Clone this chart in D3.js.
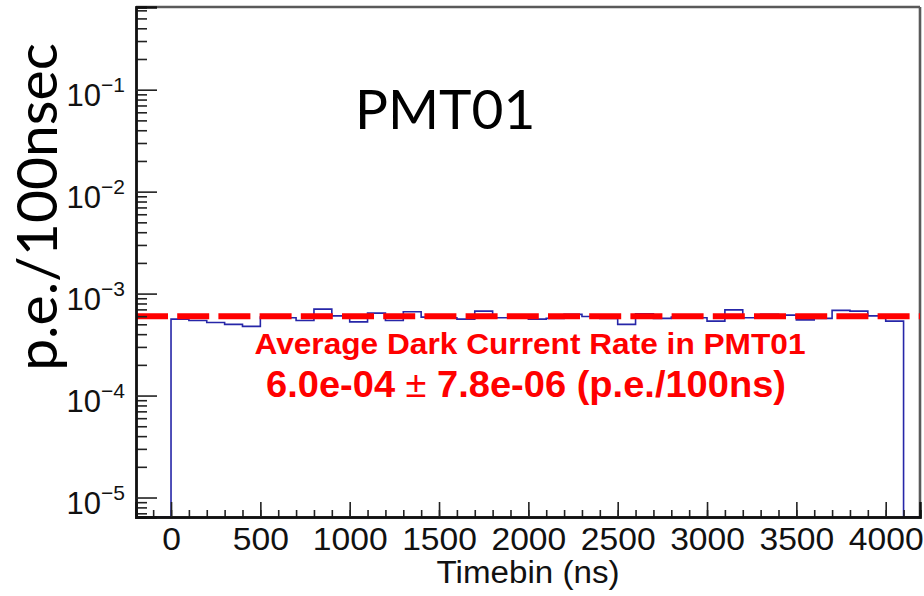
<!DOCTYPE html>
<html>
<head>
<meta charset="utf-8">
<script src="https://cdn.jsdelivr.net/npm/d3@7"></script>
<style>
  html, body { margin: 0; padding: 0; background: #fff; }
  svg { display: block; }
</style>
</head>
<body>
<svg id="chart" width="924" height="596"></svg>
<script>
// ---- data ----
const binEdges = [0,100,200,300,400,500,600,700,800,900,1000,1100,1200,1300,1400,1500,1600,1700,1800,1900,2000,
                  2100,2200,2300,2400,2500,2600,2700,2800,2900,3000,3100,3200,3300,3400,3500,3600,3700,3800,3900,4000];
const binUpperEdge = 4100;
const rates = [5.62e-4,5.45e-4,5.21e-4,4.99e-4,4.77e-4,5.88e-4,5.79e-4,5.45e-4,7.05e-4,6.05e-4,
               5.28e-4,6.44e-4,5.45e-4,6.63e-4,5.88e-4,5.79e-4,5.62e-4,6.73e-4,5.79e-4,5.79e-4,
               5.62e-4,5.71e-4,6.25e-4,5.97e-4,5.71e-4,4.99e-4,6.34e-4,5.71e-4,5.88e-4,5.79e-4,
               5.37e-4,6.93e-4,5.79e-4,6.25e-4,6.15e-4,5.53e-4,5.71e-4,6.84e-4,6.73e-4,6.05e-4,5.37e-4];
const meanRate = 6.0e-4;
const xTickLabels = [0,500,1000,1500,2000,2500,3000,3500,4000];
const xMinorTicks = [-100,0,100,200,300,400,500,600,700,800,900,1000,1100,1200,1300,1400,1500,1600,1700,1800,1900,2000,
                     2100,2200,2300,2400,2500,2600,2700,2800,2900,3000,3100,3200,3300,3400,3500,3600,3700,3800,3900,4000,4100];
const yDecadeExps = [-5,-4,-3,-2,-1];
const xDomain = [-196, 4192];
const yDomain = [6.44e-6, 0.647];
const titleText = "PMT01";
const yTitle = "p.e./100nsec";
const xTitle = "Timebin (ns)";
const noteLine1 = "Average Dark Current Rate in PMT01";
const noteValue = "6.0e-04", noteErr = "7.8e-06", noteUnit = "(p.e./100ns)";

// ---- layout ----
const W = 924, H = 596;
const m = {left: 136, right: 4, top: 7, bottom: 79};
const pw = W - m.left - m.right, ph = H - m.top - m.bottom;

const svg = d3.select("#chart");
const g = svg.append("g").attr("transform", `translate(${m.left},${m.top})`);

const x = d3.scaleLinear().domain(xDomain).range([0, pw]);
const y = d3.scaleLog().domain(yDomain).range([ph, 0]);

// y minor ticks (2..9 per decade)
const yMinor = [];
for (let e = -6; e <= 0; e++) for (let k = 2; k <= 9; k++) {
  const v = k * Math.pow(10, e);
  if (v >= yDomain[0] && v <= yDomain[1]) yMinor.push(v);
}
const yMajor = yDecadeExps.map(e => Math.pow(10, e));

// frame top/right (grey)
g.append("line").attr("x1", 0).attr("x2", pw).attr("y1", 0).attr("y2", 0)
  .attr("stroke", "#5a5a5a").attr("stroke-width", 2.6);
g.append("line").attr("x1", pw).attr("x2", pw).attr("y1", 0).attr("y2", ph)
  .attr("stroke", "#5a5a5a").attr("stroke-width", 2.6);

// histogram
const pts = [[xDomain[0], yDomain[0]]];
binEdges.forEach((e, i) => pts.push([e, rates[i]]));
pts.push([binUpperEdge, yDomain[0]]);
pts.push([xDomain[1], yDomain[0]]);
const line = d3.line().x(d => x(d[0])).y(d => y(d[1])).curve(d3.curveStepAfter);
g.append("path").attr("d", line(pts)).attr("fill", "none")
  .attr("stroke", "#2626a8").attr("stroke-width", 1.6);

// mean dashed line
g.append("line").attr("x1", 0).attr("x2", pw)
  .attr("y1", y(meanRate)).attr("y2", y(meanRate))
  .attr("stroke", "#ff0000").attr("stroke-width", 6)
  .attr("stroke-dasharray", "32,9.2");

// x axis
const xAxisMinor = d3.axisBottom(x).tickValues(xMinorTicks).tickSize(-7).tickFormat("");
const xAxis = d3.axisBottom(x).tickValues(xTickLabels).tickSize(-15).tickPadding(10).tickFormat(d3.format("d"));
const gxm = g.append("g").attr("transform", `translate(0,${ph})`).call(xAxisMinor);
const gx = g.append("g").attr("transform", `translate(0,${ph})`).call(xAxis);
[gxm, gx].forEach(a => {
  a.select(".domain").attr("stroke", "#111").attr("stroke-width", 2.4);
  a.selectAll(".tick line").attr("stroke", "#222").attr("stroke-width", 1.6);
});
gx.selectAll(".tick text").attr("font-family", "Liberation Sans, Arial, sans-serif")
  .attr("font-size", 32).attr("fill", "#111")
  .attr("textLength", d => String(d).length * 18.7).attr("lengthAdjust", "spacingAndGlyphs");

// y axis
const yAxisMinor = d3.axisLeft(y).tickValues(yMinor).tickSize(-11).tickFormat("");
const yAxis = d3.axisLeft(y).tickValues(yMajor).tickSize(-21).tickFormat("");
const gym = g.append("g").call(yAxisMinor);
const gy = g.append("g").call(yAxis);
[gym, gy].forEach(a => {
  a.select(".domain").attr("stroke", "#111").attr("stroke-width", 2.4);
  a.selectAll(".tick line").attr("stroke", "#222").attr("stroke-width", 1.6);
});
gy.selectAll(".tick text").remove();
gy.selectAll(".tick").each(function(d, i) {
  const t = d3.select(this).append("text")
    .attr("x", -11).attr("y", 16).attr("text-anchor", "end")
    .attr("font-family", "Liberation Sans, Arial, sans-serif").attr("fill", "#111");
  t.append("tspan").attr("font-size", 31).text("10");
  t.append("tspan").attr("font-size", 21).attr("dy", -14).text("\u2212" + Math.abs(Math.round(Math.log10(d))));
});

// x title
g.append("text").attr("x", pw / 2).attr("y", ph + 66).attr("text-anchor", "middle")
  .attr("font-family", "Liberation Sans, Arial, sans-serif").attr("font-size", 31).attr("fill", "#111")
  .attr("textLength", 183).attr("lengthAdjust", "spacingAndGlyphs")
  .text(xTitle);

// y title
svg.append("text").attr("transform", "translate(57,207) rotate(-90)").attr("text-anchor", "middle")
  .attr("font-family", "Lato, 'Open Sans', sans-serif").attr("font-size", 57).attr("fill", "#000")
  .text(yTitle);

// PMT label
svg.append("text").attr("x", 355).attr("y", 129)
  .attr("font-family", "Lato, 'Open Sans', sans-serif").attr("font-size", 55).attr("fill", "#000")
  .text(titleText);

// annotation
svg.append("text").attr("x", 530).attr("y", 354).attr("text-anchor", "middle")
  .attr("font-family", "Liberation Sans, Arial, sans-serif").attr("font-weight", "bold")
  .attr("font-size", 29).attr("fill", "#ff0000")
  .attr("textLength", 551).attr("lengthAdjust", "spacingAndGlyphs")
  .text(noteLine1);
const t2 = svg.append("text").attr("x", 526).attr("y", 397).attr("text-anchor", "middle")
  .attr("font-family", "Liberation Sans, Arial, sans-serif").attr("font-weight", "bold")
  .attr("font-size", 36).attr("fill", "#ff0000")
  .attr("textLength", 520).attr("lengthAdjust", "spacingAndGlyphs");
t2.append("tspan").text(noteValue + " ");
t2.append("tspan").attr("font-weight", "normal").text("\u00b1");
t2.append("tspan").text(" " + noteErr + " " + noteUnit);
</script>
</body>
</html>
